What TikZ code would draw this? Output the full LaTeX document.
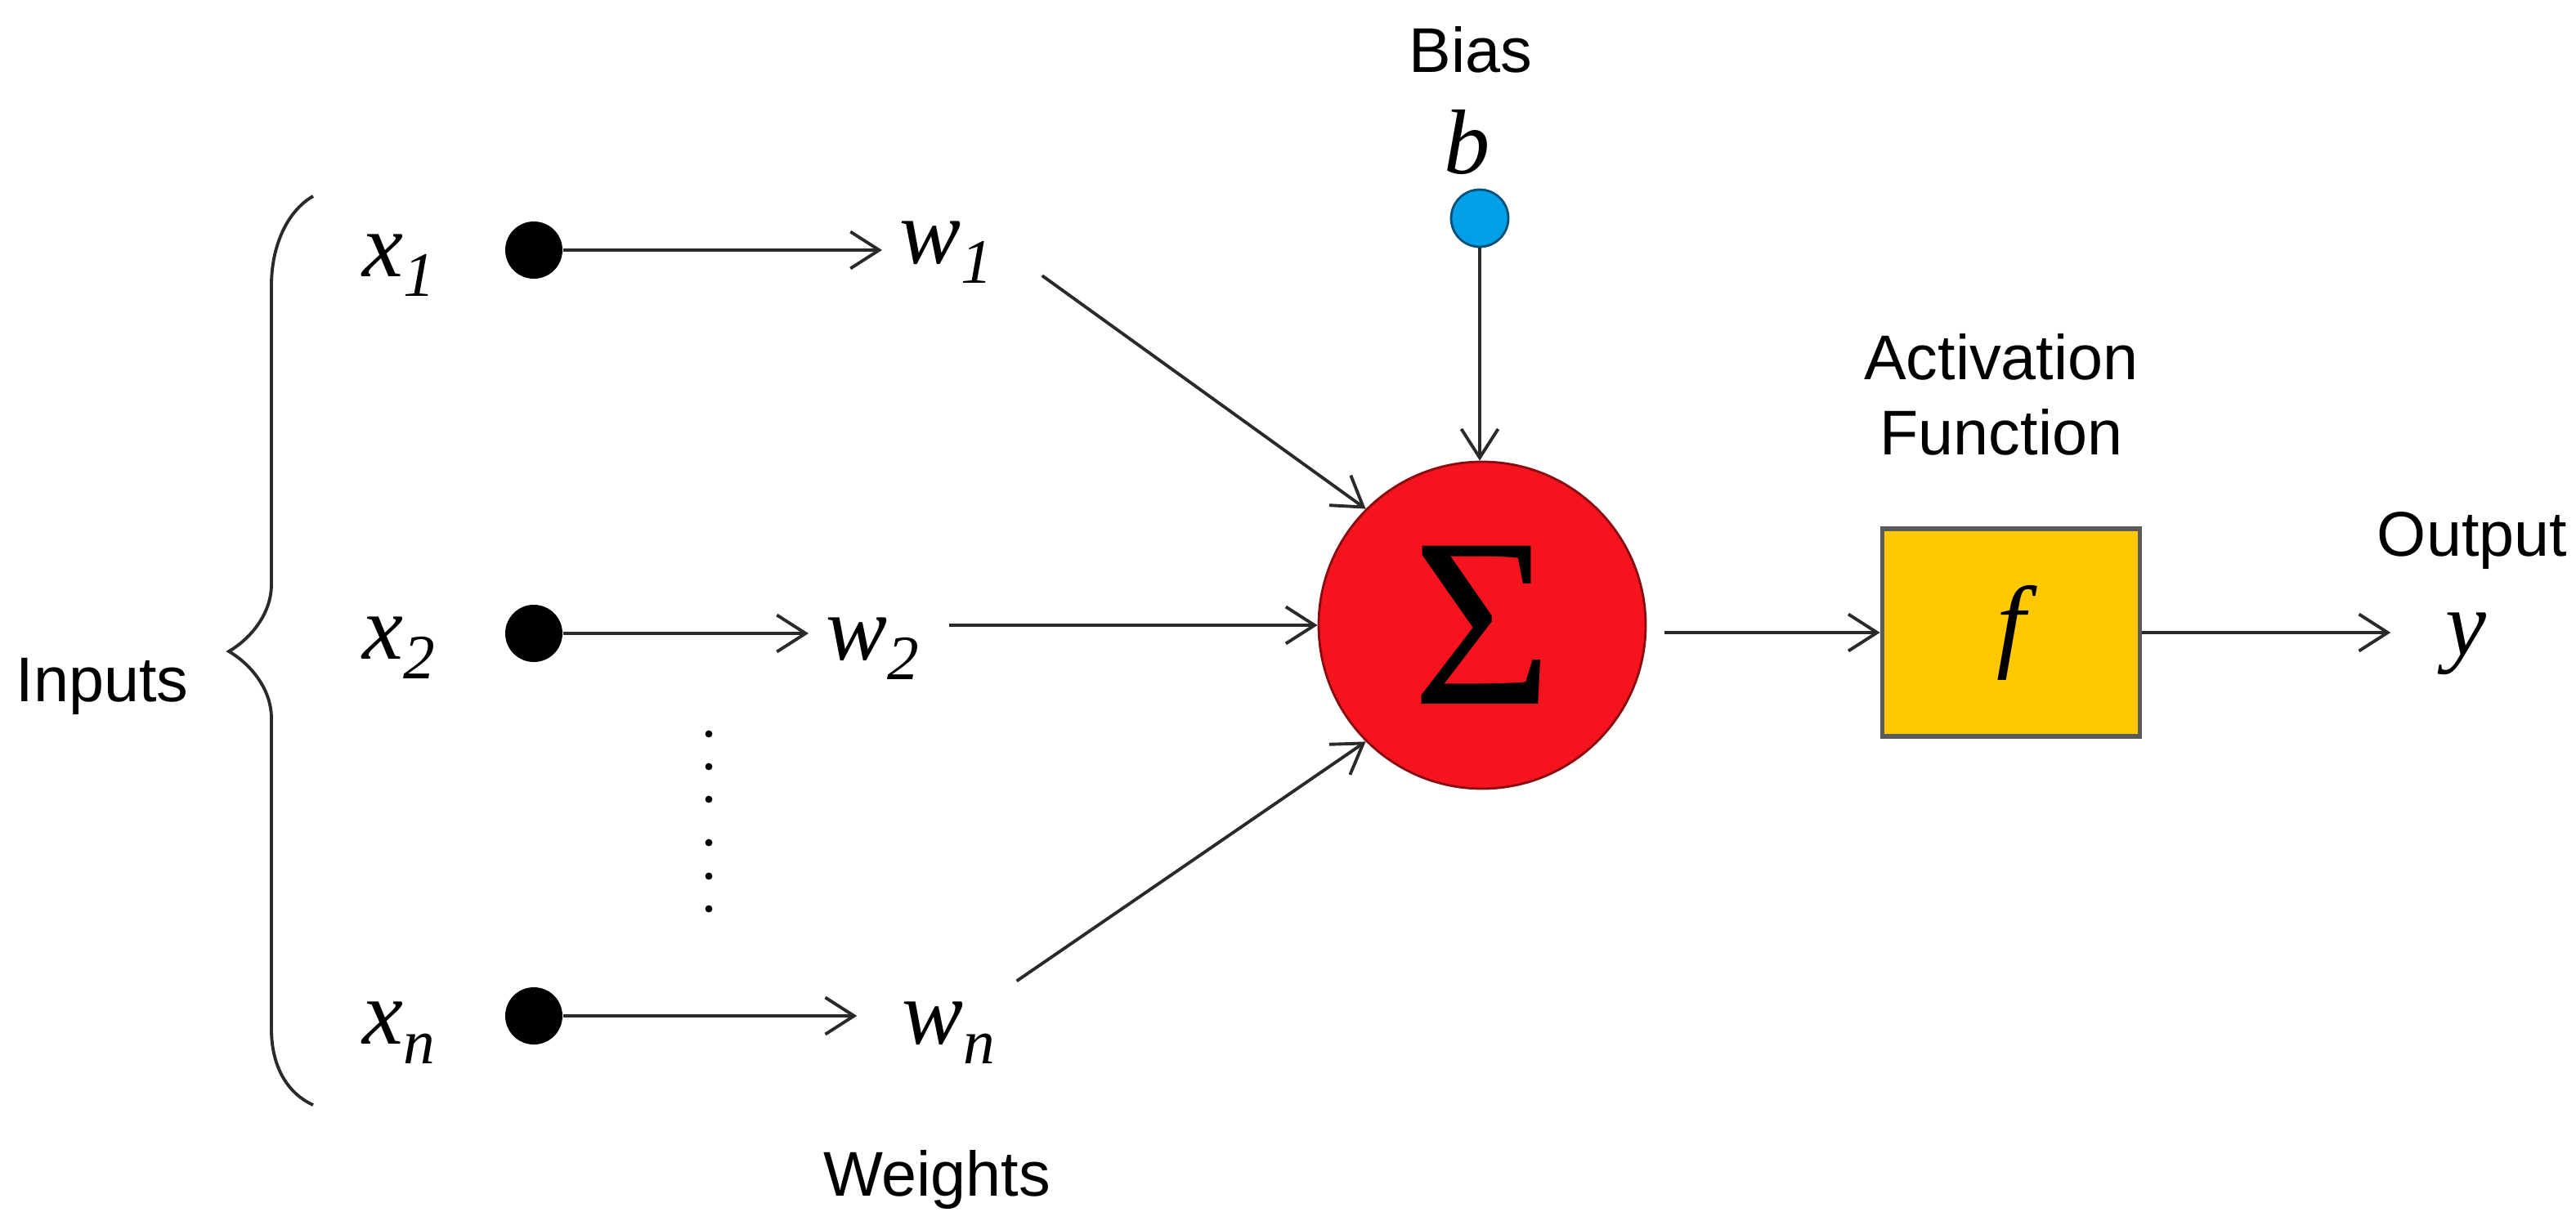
\documentclass[tikz,border=0pt]{standalone}
\usepackage{fontspec}
\setmainfont{Liberation Sans}
\newfontfamily\timesfont{Liberation Serif}
\usetikzlibrary{arrows.meta,calc}
\definecolor{sumred}{HTML}{F5141E}
\definecolor{sumborder}{HTML}{8A0A10}
\definecolor{biasblue}{HTML}{00A0E6}
\definecolor{biasborder}{HTML}{05507A}
\definecolor{actyellow}{HTML}{FFC800}
\definecolor{actborder}{HTML}{5A5A5A}
\definecolor{linegray}{HTML}{2A2A2A}
\newcommand{\lowsub}[1]{\raisebox{-3.5pt}{\fontsize{11}{11}\selectfont #1}}

\begin{document}
\begin{tikzpicture}[
  lbl/.style={font=\fontsize{11}{13}\selectfont, inner sep=0pt},
  var/.style={font=\timesfont\itshape\fontsize{16}{16}\selectfont, inner sep=0pt, outer sep=3pt, anchor=base west},
  dot/.style={circle, fill=black, minimum size=0.35cm, inner sep=0pt},
  arr/.style={draw=linegray, line width=0.55pt, -{Straight Barb[length=5pt,width=6.4pt]}}
]
  \useasboundingbox (0,0) rectangle (15.755,7.465);

  % inputs and brace
  \node[lbl, anchor=base] (inputs) at (0.625,3.175) {Inputs};
  \draw[linegray, line width=0.55pt] (1.915,6.265) .. controls (1.75,6.17) and (1.66,5.95) .. (1.66,5.72)
    -- (1.66,3.89) .. controls (1.66,3.70) and (1.52,3.55) .. (1.40,3.48)
    .. controls (1.52,3.41) and (1.66,3.26) .. (1.66,3.07)
    -- (1.66,1.17) .. controls (1.66,0.95) and (1.75,0.78) .. (1.915,0.705);

  \node[var] (x1) at (2.11,5.775) {x\lowsub{1}};
  \node[var] (x2) at (2.11,3.435) {x\lowsub{2}};
  \node[var] (xn) at (2.11,1.08) {x\lowsub{n}};
  \node[dot] (d1) at (3.265,5.935) {};
  \node[dot] (d2) at (3.265,3.59) {};
  \node[dot] (dn) at (3.265,1.25) {};
  \foreach \y in {2.975,2.775,2.575,2.31,2.105,1.905}
    \fill (4.335,\y) circle (0.022);

  % weights
  \node[var] (w1) at (5.395,5.855) {w\lowsub{1}};
  \node[var] (w2) at (4.945,3.43) {w\lowsub{2}};
  \node[var] (wn) at (5.41,1.08) {w\lowsub{n}};
  \node[lbl, anchor=base] (weights) at (5.73,0.15) {Weights};

  % summation and bias
  \node[circle, fill=sumred, draw=sumborder, line width=0.4pt, minimum size=2cm, inner sep=0pt,
    font=\timesfont\fontsize{42}{42}\selectfont] (sum) at (9.065,3.64) {Σ};
  \node[circle, fill=biasblue, draw=biasborder, line width=0.4pt, minimum size=0.35cm, inner sep=0pt] (bias) at (9.05,6.13) {};
  \node[var, anchor=base] (b) at (8.975,6.405) {b};
  \node[lbl, anchor=base] (biaslbl) at (8.995,7.025) {Bias};

  % activation and output
  \node[rectangle, fill=actyellow, draw=actborder, line width=0.8pt, minimum width=1.575cm, minimum height=1.27cm,
    font=\timesfont\itshape\fontsize{18}{18}\selectfont] (act) at (12.30,3.595) {f};
  \node[lbl, align=center] (actlbl) at (12.24,5.05) {Activation\\Function};
  \node[lbl, anchor=base] (outlbl) at (15.12,4.065) {Output};
  \node[var, anchor=base] (y) at (15.08,3.46) {y};

  \draw[arr] (d1) -- (d1 -| w1.west);
  \draw[arr] (d2) -- (d2 -| w2.west);
  \draw[arr, shorten >=4.8pt] (dn) -- (dn -| wn.west);
  \draw[arr, shorten <=7pt] (w1.east) -- (sum.135);
  \draw[arr, shorten <=2.3pt] (w2.east |- sum.west) -- (sum.west);
  \draw[arr, shorten <=1pt] (wn.north east) -- (sum.225);
  \draw[arr] (bias) -- (bias |- sum.north);
  \draw[arr, shorten <=3pt] (act.west -| sum.east) -- (act.west);
  \draw[arr, shorten >=6.5pt] (act.east) -- (act.east -| y.west);
\end{tikzpicture}
\end{document}
